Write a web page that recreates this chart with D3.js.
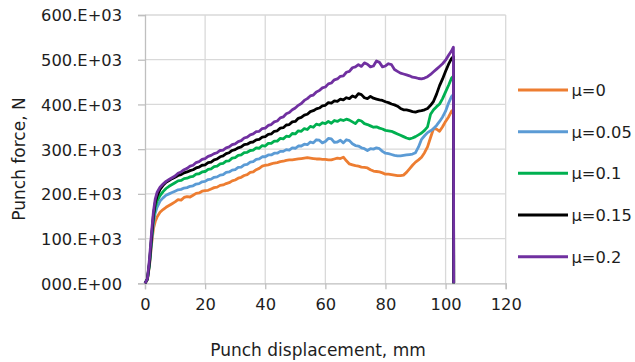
<!DOCTYPE html>
<html>
<head>
<meta charset="utf-8">
<script src="https://cdn.jsdelivr.net/npm/d3@7"></script>
<style>
  html, body { margin: 0; padding: 0; background: #fff; }
  svg { display: block; }
  text { font-family: "DejaVu Sans", sans-serif; fill: #1e1e1e; }
</style>
</head>
<body>
<svg id="chart" width="635" height="362"></svg>
<script>
// ---- data (punch displacement in mm, punch force in kN) ----
const displacement = [0, 0.8, 1.5, 2.2, 2.8, 3.4, 4, 5, 6, 7, 8, 9,
  10, 11, 12, 13, 14, 15, 16, 17, 18, 19,
  20, 21, 22, 23, 24, 25, 26, 27, 28, 29,
  30, 31, 32, 33, 34, 35, 36, 37, 38, 39,
  40, 41, 42, 43, 44, 45, 46, 47, 48, 49,
  50, 51, 52, 53, 54, 55, 56, 57, 58, 59,
  60, 61, 62, 63, 64, 65, 66, 67, 68, 69,
  70, 71, 72, 73, 74, 75, 76, 77, 78, 79,
  80, 81, 82, 83, 84, 85, 86, 87, 88, 89,
  90, 91, 92, 93, 94, 95, 96, 97, 98, 99,
  100, 101, 102, 102.6, 102.7];

const force_mu0 = [0, 8, 40, 88, 122, 138, 148, 159, 165, 170, 174, 178,
  182, 187, 186, 192, 194, 193, 197, 201, 202, 206,
  207, 208, 211, 214, 215, 219, 220, 223, 225, 229,
  231, 235, 237, 241, 243, 248, 249, 254, 257, 262,
  264, 265, 267, 269, 270, 272, 273, 275, 276, 276,
  277, 278, 279, 280, 281, 280, 279, 278, 278, 277,
  277, 276, 276, 278, 280, 279, 282, 274, 267, 265,
  263, 262, 260, 259, 258, 254, 251, 250, 249, 247,
  244, 244, 243, 242, 241, 241, 242, 248, 256, 264,
  271, 276, 282, 292, 305, 326, 346, 345, 340, 350,
  362, 372, 385, 388, 0];

const force_mu005 = [0, 9, 42, 94, 134, 157, 170, 184, 191, 197, 200, 203,
  206, 209, 210, 213, 214, 217, 218, 222, 223, 227,
  228, 232, 233, 237, 238, 242, 243, 248, 249, 253,
  254, 259, 260, 265, 266, 271, 272, 277, 278, 283,
  283, 287, 287, 291, 291, 295, 295, 299, 298, 303,
  302, 307, 307, 311, 310, 316, 314, 321, 320, 314,
  317, 324, 323, 315, 316, 320, 314, 321, 319, 312,
  308, 307, 303, 301, 297, 301, 300, 303, 301, 295,
  291, 290, 288, 286, 285, 285, 286, 287, 288, 289,
  292, 305, 322, 330, 337, 341, 346, 353, 362, 372,
  385, 403, 418, 422, 0];

const force_mu01 = [0, 9, 44, 100, 145, 170, 184, 196, 205, 212, 217, 221,
  225, 229, 230, 234, 235, 238, 239, 244, 245, 249,
  250, 255, 256, 261, 262, 267, 268, 273, 274, 280,
  281, 286, 287, 292, 293, 297, 298, 303, 302, 308,
  307, 313, 313, 318, 318, 324, 323, 329, 328, 335,
  334, 341, 340, 346, 344, 351, 349, 356, 354, 359,
  357, 362, 358, 364, 362, 366, 364, 367, 365, 361,
  357, 365, 363, 357, 355, 352, 349, 350, 347, 345,
  342, 341, 340, 337, 334, 331, 328, 325, 323, 325,
  328, 332, 336, 342, 350, 378, 388, 395, 401, 413,
  428, 443, 459, 463, 0];

const force_mu015 = [0, 10, 47, 105, 152, 180, 195, 210, 219, 226, 230, 234,
  237, 241, 243, 247, 249, 252, 254, 258, 260, 264,
  265, 270, 271, 276, 278, 283, 285, 290, 292, 297,
  299, 303, 305, 310, 311, 315, 316, 321, 322, 327,
  328, 333, 334, 340, 341, 347, 348, 354, 355, 361,
  362, 369, 371, 376, 378, 384, 386, 390, 392, 397,
  398, 404, 403, 408, 407, 412, 410, 415, 413, 419,
  416, 424, 422, 415, 413, 418, 414, 412, 410, 409,
  406, 404, 401, 399, 396, 391, 388, 388, 386, 384,
  383, 385, 386, 388, 391, 398, 407, 423, 442, 457,
  474, 490, 503, 507, 0];

const force_mu02 = [0, 10, 55, 115, 160, 188, 203, 215, 222, 228, 232, 236,
  240, 246, 249, 254, 257, 262, 264, 270, 272, 277,
  279, 284, 286, 290, 292, 297, 298, 303, 305, 310,
  312, 317, 319, 325, 327, 332, 334, 339, 340, 346,
  347, 353, 355, 361, 363, 370, 372, 379, 382, 388,
  392, 398, 402, 409, 413, 419, 421, 428, 431, 437,
  439, 446, 448, 455, 457, 463, 464, 472, 474, 482,
  484, 489, 485, 493, 490, 484, 486, 497, 494, 484,
  486, 491, 489, 478, 474, 470, 468, 466, 464, 461,
  460, 458, 457, 459, 462, 467, 473, 479, 485, 491,
  499, 510, 520, 528, 0];

const seriesNames = ["μ=0", "μ=0.05", "μ=0.1", "μ=0.15", "μ=0.2"];
const seriesValues = [force_mu0, force_mu005, force_mu01, force_mu015, force_mu02];
const seriesColors = ["#ED7D31", "#5B9BD5", "#00B050", "#000000", "#7030A0"];

const xTicks = [0, 20, 40, 60, 80, 100, 120];
const yTicks = [0, 100, 200, 300, 400, 500, 600];
const yTickLabels = ["000.E+00", "100.E+03", "200.E+03", "300.E+03", "400.E+03", "500.E+03", "600.E+03"];

const xTitle = "Punch displacement, mm";
const yTitle = "Punch force, N";

// ---- layout ----
const svg = d3.select("#chart");
const plot = { left: 145, right: 505.7, top: 15, bottom: 283.3 };

const x = d3.scaleLinear().domain([0, 120]).range([plot.left, plot.right]);
const y = d3.scaleLinear().domain([0, 600]).range([plot.bottom, plot.top]);

const gridColor = "#d9d9d9";

// gridlines
svg.append("g").selectAll("line").data(xTicks.slice(1)).join("line")
  .attr("x1", d => x(d)).attr("x2", d => x(d))
  .attr("y1", plot.top).attr("y2", plot.bottom)
  .attr("stroke", gridColor).attr("stroke-width", 1.3);
svg.append("g").selectAll("line").data(yTicks.slice(1)).join("line")
  .attr("x1", plot.left).attr("x2", plot.right)
  .attr("y1", d => y(d)).attr("y2", d => y(d))
  .attr("stroke", gridColor).attr("stroke-width", 1.3);

// axes
const xAxis = d3.axisBottom(x).tickValues(xTicks).tickSize(6).tickPadding(6).tickFormat(d => String(d));
const yAxis = d3.axisLeft(y).tickValues(yTicks).tickSize(7).tickPadding(16)
  .tickFormat(d => yTickLabels[yTicks.indexOf(d)]);

const gx = svg.append("g").attr("transform", `translate(0,${plot.bottom})`).call(xAxis);
const gy = svg.append("g").attr("transform", `translate(${plot.left},0)`).call(yAxis);
[gx, gy].forEach(g => {
  g.select(".domain").attr("stroke", "#bfbfbf").attr("stroke-width", 1.3);
  g.selectAll(".tick line").attr("stroke", "#bfbfbf").attr("stroke-width", 1.3);
  g.selectAll(".tick text").attr("font-family", "DejaVu Sans").attr("font-size", 16.3).attr("fill", "#1e1e1e");
});
gx.selectAll(".tick text").attr("dy", "0.9em");
gy.selectAll(".tick text").attr("dy", "0.36em");

// axis titles
svg.append("text").attr("x", 318).attr("y", 355.5).attr("text-anchor", "middle")
  .attr("font-size", 17).text(xTitle);
svg.append("text").attr("transform", "translate(24.5,159) rotate(-90)").attr("text-anchor", "middle")
  .attr("font-size", 17).text(yTitle);

// series
const line = d3.line().x(d => x(d[0])).y(d => y(d[1]));
seriesValues.forEach((vals, i) => {
  const pts = displacement.map((d, j) => [d, vals[j]]);
  svg.append("path").datum(pts)
    .attr("d", line)
    .attr("fill", "none")
    .attr("stroke", seriesColors[i])
    .attr("stroke-width", 2.8)
    .attr("stroke-linejoin", "round");
});

// legend
const legend = svg.append("g");
const legY = d3.scaleLinear().domain([0, 4]).range([90, 256.7]);
seriesNames.forEach((name, i) => {
  const ly = legY(i);
  legend.append("line").attr("x1", 518).attr("x2", 568).attr("y1", ly).attr("y2", ly)
    .attr("stroke", seriesColors[i]).attr("stroke-width", 3);
  legend.append("text").attr("x", 571.5).attr("y", ly).attr("dy", "0.36em")
    .attr("font-size", 16.3).text(name);
});
</script>
</body>
</html>
